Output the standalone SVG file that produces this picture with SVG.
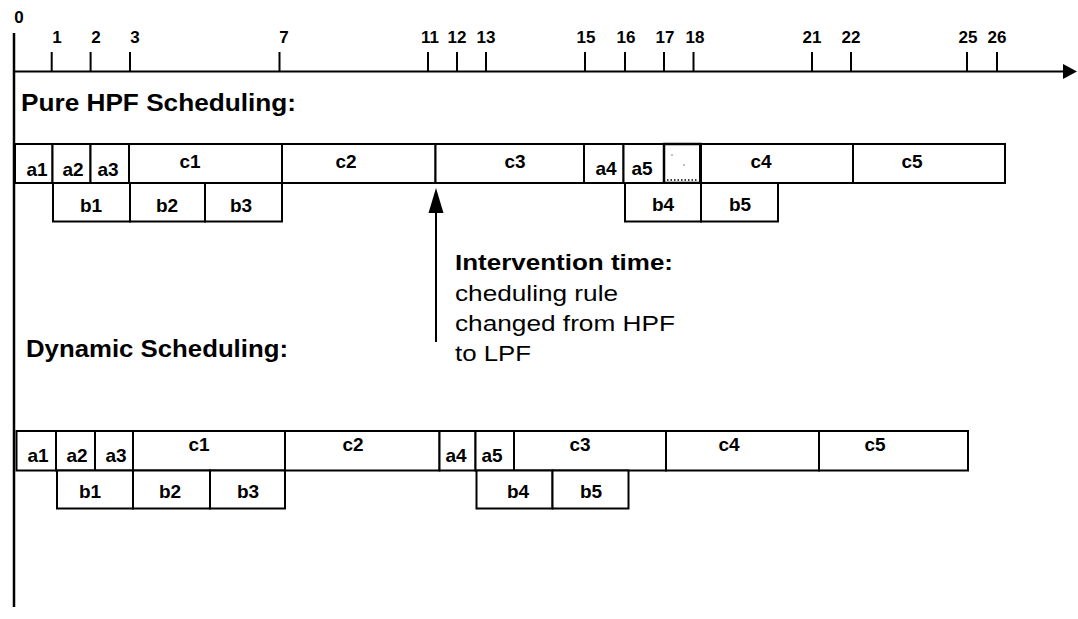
<svg xmlns="http://www.w3.org/2000/svg" width="1078" height="619" viewBox="0 0 1078 619">
<style>
.box{fill:#fff;stroke:#000;stroke-width:2}
.ln{stroke:#000;stroke-width:2;fill:none}
.lbl{font-family:"Liberation Sans",Arial,sans-serif;font-weight:bold;font-size:19px;text-anchor:middle;fill:#000}
.tl{font-family:"Liberation Sans",Arial,sans-serif;font-weight:bold;font-size:17px;text-anchor:middle;fill:#000}
.hd{font-family:"Liberation Sans",Arial,sans-serif;font-weight:bold;font-size:23px;fill:#000}
.nt{font-family:"Liberation Sans",Arial,sans-serif;font-size:22px;fill:#000}
.ntb{font-family:"Liberation Sans",Arial,sans-serif;font-size:22px;font-weight:bold;fill:#000}
</style>
<rect width="1078" height="619" fill="#fff"/>

<g id="axis">
<line class="ln" x1="14" y1="33" x2="14" y2="607" style="stroke-width:2.5"/>
<line class="ln" x1="14" y1="71.5" x2="1066" y2="71.5"/>
<polygon points="1063,64 1077,71.5 1063,79" fill="#000"/>
<g class="ln">
<line x1="51.7" y1="52" x2="51.7" y2="71"/>
<line x1="90.6" y1="52" x2="90.6" y2="71"/>
<line x1="130" y1="52" x2="130" y2="71"/>
<line x1="279.5" y1="52" x2="279.5" y2="71"/>
<line x1="428" y1="52" x2="428" y2="71"/>
<line x1="457" y1="52" x2="457" y2="71"/>
<line x1="486" y1="52" x2="486" y2="71"/>
<line x1="585" y1="52" x2="585" y2="71"/>
<line x1="625" y1="52" x2="625" y2="71"/>
<line x1="664" y1="52" x2="664" y2="71"/>
<line x1="693.5" y1="52" x2="693.5" y2="71"/>
<line x1="812" y1="52" x2="812" y2="71"/>
<line x1="851" y1="52" x2="851" y2="71"/>
<line x1="967" y1="52" x2="967" y2="71"/>
<line x1="997" y1="52" x2="997" y2="71"/>
</g>
<text class="tl" x="19" y="23">0</text>
<text class="tl" x="57" y="43">1</text>
<text class="tl" x="96" y="43">2</text>
<text class="tl" x="135" y="43">3</text>
<text class="tl" x="284" y="43">7</text>
<text class="tl" x="430" y="43">11</text>
<text class="tl" x="457" y="43">12</text>
<text class="tl" x="486" y="43">13</text>
<text class="tl" x="586" y="43">15</text>
<text class="tl" x="626" y="43">16</text>
<text class="tl" x="665" y="43">17</text>
<text class="tl" x="695" y="43">18</text>
<text class="tl" x="812" y="43">21</text>
<text class="tl" x="851" y="43">22</text>
<text class="tl" x="968" y="43">25</text>
<text class="tl" x="997" y="43">26</text>
</g>

<g id="title-hpf">
<text class="hd" x="21" y="111" textLength="275" lengthAdjust="spacingAndGlyphs">Pure HPF Scheduling:</text>
</g>

<g id="hpf-row">
<g id="hpf-a1"><rect class="box" x="15" y="144" width="37.5" height="39"/><text class="lbl" x="37" y="176">a1</text></g>
<g id="hpf-a2"><rect class="box" x="52.5" y="144" width="38" height="39"/><text class="lbl" x="73" y="176">a2</text></g>
<g id="hpf-a3"><rect class="box" x="90.5" y="144" width="38.5" height="39"/><text class="lbl" x="108" y="176">a3</text></g>
<g id="hpf-c1"><rect class="box" x="129" y="144" width="153" height="39"/><text class="lbl" x="190" y="168">c1</text></g>
<g id="hpf-c2"><rect class="box" x="282" y="144" width="153.5" height="39"/><text class="lbl" x="346" y="168">c2</text></g>
<g id="hpf-c3"><rect class="box" x="435.5" y="144" width="148.5" height="39"/><text class="lbl" x="515" y="168">c3</text></g>
<g id="hpf-a4"><rect class="box" x="584" y="144" width="39.5" height="39"/><text class="lbl" x="606" y="175">a4</text></g>
<g id="hpf-a5"><rect class="box" x="623.5" y="144" width="40.5" height="39"/><text class="lbl" x="642" y="175">a5</text></g>
<g id="hpf-idle"><rect class="box" x="664" y="144" width="36.5" height="39" style="stroke-width:2.5"/><line x1="667" y1="180" x2="698" y2="180" stroke="#000" stroke-width="1.5" stroke-dasharray="1.5,2"/><circle cx="672" cy="155" r="0.7" fill="#555"/><circle cx="684" cy="165" r="0.7" fill="#555"/></g>
<g id="hpf-c4"><rect class="box" x="700.5" y="144" width="152.5" height="39"/><line x1="700.5" y1="144" x2="700.5" y2="183" stroke="#000" stroke-width="3"/><text class="lbl" x="761" y="168">c4</text></g>
<g id="hpf-c5"><rect class="box" x="853" y="144" width="152" height="39"/><text class="lbl" x="912" y="168">c5</text></g>
<g id="hpf-b1"><rect class="box" x="53" y="183" width="77" height="38.5"/><text class="lbl" x="91" y="212">b1</text></g>
<g id="hpf-b2"><rect class="box" x="130" y="183" width="75" height="38.5"/><text class="lbl" x="167" y="212">b2</text></g>
<g id="hpf-b3"><rect class="box" x="205" y="183" width="77" height="38.5"/><text class="lbl" x="241" y="212">b3</text></g>
<g id="hpf-b4"><rect class="box" x="625" y="183" width="76" height="38.5"/><text class="lbl" x="663" y="211">b4</text></g>
<g id="hpf-b5"><rect class="box" x="701" y="183" width="77" height="38.5"/><text class="lbl" x="740" y="211">b5</text></g>
</g>

<g id="connectors">
<line class="ln" x1="436" y1="210" x2="436" y2="342"/>
<polygon points="436,188 428.5,213 443.5,213" fill="#000"/>
</g>

<g id="intervention-note">
<text class="ntb" x="455" y="270" textLength="218" lengthAdjust="spacingAndGlyphs">Intervention time:</text>
<text class="nt" x="455" y="301" textLength="163" lengthAdjust="spacingAndGlyphs">cheduling rule</text>
<text class="nt" x="455" y="331" textLength="220" lengthAdjust="spacingAndGlyphs">changed from HPF</text>
<text class="nt" x="455" y="361" textLength="76" lengthAdjust="spacingAndGlyphs">to LPF</text>
</g>

<g id="title-dynamic">
<text class="hd" x="26" y="357" textLength="262" lengthAdjust="spacingAndGlyphs">Dynamic Scheduling:</text>
</g>

<g id="dynamic-row">
<g id="dyn-a1"><rect class="box" x="16.5" y="431" width="39.5" height="39.5"/><text class="lbl" x="38" y="462">a1</text></g>
<g id="dyn-a2"><rect class="box" x="56" y="431" width="39" height="39.5"/><text class="lbl" x="77" y="462">a2</text></g>
<g id="dyn-a3"><rect class="box" x="95" y="431" width="38" height="39.5"/><text class="lbl" x="116" y="462">a3</text></g>
<g id="dyn-c1"><rect class="box" x="133" y="431" width="152" height="39.5"/><text class="lbl" x="199" y="451">c1</text></g>
<g id="dyn-c2"><rect class="box" x="285" y="431" width="154.5" height="39.5"/><text class="lbl" x="353" y="451">c2</text></g>
<g id="dyn-a4"><rect class="box" x="439.5" y="431" width="36" height="39.5"/><text class="lbl" x="456" y="462">a4</text></g>
<g id="dyn-a5"><rect class="box" x="475.5" y="431" width="38.5" height="39.5"/><text class="lbl" x="492" y="462">a5</text></g>
<g id="dyn-c3"><rect class="box" x="514" y="431" width="152" height="39.5"/><text class="lbl" x="580" y="451">c3</text></g>
<g id="dyn-c4"><rect class="box" x="666" y="431" width="153" height="39.5"/><text class="lbl" x="729" y="451">c4</text></g>
<g id="dyn-c5"><rect class="box" x="819" y="431" width="149" height="39.5"/><text class="lbl" x="875" y="451">c5</text></g>
<g id="dyn-b1"><rect class="box" x="57" y="470.5" width="76" height="38"/><text class="lbl" x="90" y="498">b1</text></g>
<g id="dyn-b2"><rect class="box" x="133" y="470.5" width="77" height="38"/><text class="lbl" x="170" y="498">b2</text></g>
<g id="dyn-b3"><rect class="box" x="210" y="470.5" width="75" height="38"/><text class="lbl" x="248" y="498">b3</text></g>
<g id="dyn-b4"><rect class="box" x="476.5" y="470.5" width="76" height="38"/><text class="lbl" x="518" y="498">b4</text></g>
<g id="dyn-b5"><rect class="box" x="552.5" y="470.5" width="76" height="38"/><text class="lbl" x="591" y="498">b5</text></g>
</g>
</svg>
